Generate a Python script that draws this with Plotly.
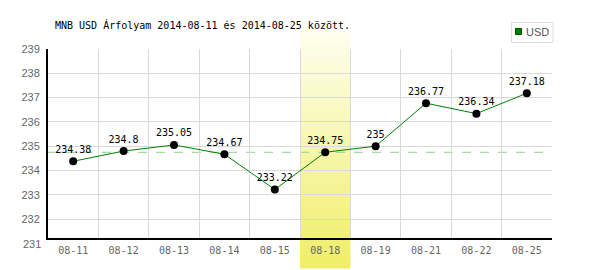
import plotly.graph_objects as go

categories = ["08-11", "08-12", "08-13", "08-14", "08-15", "08-18", "08-19", "08-21", "08-22", "08-25"]
values = [234.38, 234.8, 235.05, 234.67, 233.22, 234.75, 235, 236.77, 236.34, 237.18]
value_labels = ["234.38", "234.8", "235.05", "234.67", "233.22", "234.75", "235", "236.77", "236.34", "237.18"]
y_ticks = [232, 233, 234, 235, 236, 237, 238, 239]
highlight_index = 5
reference_value = 234.75
title_text = "MNB USD Árfolyam 2014-08-11 és 2014-08-25 között."
legend_name = "USD"

W, H = 600, 270
L, R, T, B = 48, 48, 49, 32
pw, ph = W - L - R, H - T - B

def px_x(px):
    return (px - L) / pw

def px_y(py):
    return (H - B - py) / ph

xs = list(range(len(categories)))

fig = go.Figure()
fig.add_trace(go.Scatter(
    x=xs, y=values, mode="lines+markers+text",
    line=dict(color="#008000", width=1),
    marker=dict(color="#000000", size=8),
    text=value_labels, textposition="top center",
    textfont=dict(family="DejaVu Sans Mono", size=10, color="#000000"),
    showlegend=False, cliponaxis=False, hoverinfo="skip",
))

shapes = []
# gradient highlight band
top_px, bot_px = 30, 268
n = 40
c0 = (254, 254, 238)
c1 = (240, 238, 104)
for i in range(n):
    f = i / (n - 1)
    c = tuple(round(c0[k] + (c1[k] - c0[k]) * f) for k in range(3))
    y_top = top_px + (bot_px - top_px) * i / n
    y_bot = top_px + (bot_px - top_px) * (i + 1) / n + 0.5
    shapes.append(dict(
        type="rect", xref="x", yref="paper", layer="between",
        x0=highlight_index - 0.5, x1=highlight_index + 0.5,
        y0=px_y(y_bot), y1=px_y(y_top),
        fillcolor="rgb(%d,%d,%d)" % c, line=dict(width=0),
    ))
# reference dashed line
shapes.append(dict(
    type="line", xref="paper", yref="y", layer="between",
    x0=0, x1=1, y0=reference_value, y1=reference_value,
    line=dict(color="#8fd08f", width=1, dash="dash"),
))
# legend box and symbol
shapes.append(dict(
    type="rect", xref="paper", yref="paper", layer="above",
    x0=px_x(511.5), x1=px_x(553), y0=px_y(42.5), y1=px_y(22.5),
    fillcolor="rgba(255,255,255,0)", line=dict(color="#dddddd", width=1),
))
shapes.append(dict(
    type="rect", xref="paper", yref="paper", layer="above",
    x0=px_x(515.5), x1=px_x(521.5), y0=px_y(34.5), y1=px_y(28.5),
    fillcolor="#008000", line=dict(color="#004d00", width=1),
))

annotations = [
    dict(text=title_text, xref="paper", yref="paper", x=px_x(53), y=px_y(25),
         xanchor="left", yanchor="middle", showarrow=False,
         font=dict(family="DejaVu Sans Mono", size=10, color="#000000")),
    dict(text=legend_name, xref="paper", yref="paper", x=px_x(523.5), y=px_y(32),
         xanchor="left", yanchor="middle", showarrow=False,
         font=dict(family="Liberation Sans", size=11, color="#555555")),
    dict(text="231", xref="paper", yref="paper", x=px_x(43), y=px_y(243.5),
         xanchor="right", yanchor="middle", showarrow=False,
         font=dict(family="Liberation Sans", size=11, color="#666666")),
]

y_bottom = 239 - ph / 24.3

fig.update_layout(
    width=W, height=H,
    margin=dict(l=L, r=R, t=T, b=B, pad=0),
    paper_bgcolor="#ffffff", plot_bgcolor="#ffffff",
    shapes=shapes, annotations=annotations,
    showlegend=False,
    xaxis=dict(
        range=[-0.5, len(categories) - 0.5],
        tickmode="array", tickvals=xs, ticktext=categories,
        showgrid=False, zeroline=False,
        showline=True, linecolor="#000000", linewidth=2,
        ticks="", ticklabelstandoff=2,
        tickfont=dict(family="DejaVu Sans Mono", size=10, color="#666666"),
        minor=dict(tickmode="array", tickvals=[i + 0.5 for i in range(-1, len(categories))],
                   showgrid=True, gridcolor="#d9d9d9", gridwidth=1, ticks=""),
        fixedrange=True,
    ),
    yaxis=dict(
        range=[y_bottom, 239],
        tickmode="array", tickvals=y_ticks,
        showgrid=True, gridcolor="#d9d9d9", gridwidth=1, zeroline=False,
        showline=True, linecolor="#000000", linewidth=2,
        ticks="", ticklabelstandoff=4,
        tickfont=dict(family="Liberation Sans", size=11, color="#666666"),
        fixedrange=True,
    ),
)

fig.write_html("out.html", config={"displayModeBar": False})
